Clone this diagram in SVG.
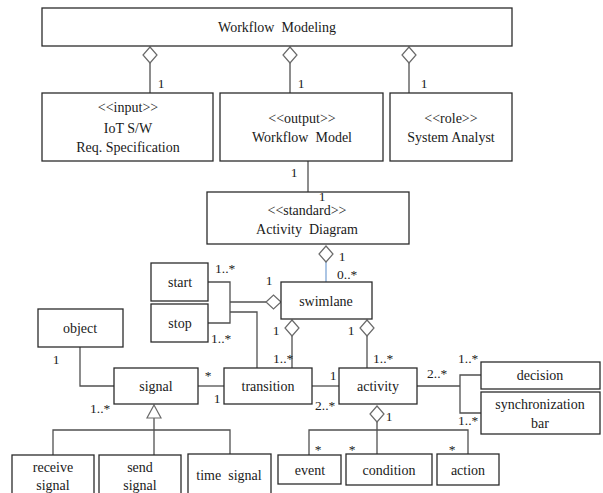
<svg xmlns="http://www.w3.org/2000/svg" width="603" height="493" viewBox="0 0 603 493">
  <style>
    .box { fill: #ffffff; stroke: #2b2b2b; stroke-width: 1.3; }
    .ln { fill: none; stroke: #505050; stroke-width: 1.3; }
    .blue { fill: none; stroke: #7fa6d6; stroke-width: 1.3; }
    .agg { fill: #ffffff; stroke: #6a6a6a; stroke-width: 1.2; }
    text { font-family: "Liberation Serif", "Times New Roman", serif; font-size: 14px; fill: #1a1a1a; }
    .c { text-anchor: middle; }
    .m { font-size: 13.5px; fill: #222; }
  </style>
  <defs>
    <path id="dv" d="M0,0 L7,8 L0,16 L-7,8 Z" class="agg"/>
  </defs>

  <rect width="603" height="493" fill="#ffffff"/>

  <!-- connectors -->
  <g id="connectors">
    <!-- Workflow Modeling aggregations -->
    <line class="ln" x1="150" y1="63" x2="150" y2="93"/>
    <line class="ln" x1="290" y1="63" x2="290" y2="93"/>
    <line class="ln" x1="409" y1="63" x2="409" y2="93"/>
    <use href="#dv" x="150" y="47"/>
    <use href="#dv" x="290" y="47"/>
    <use href="#dv" x="409" y="47"/>

    <!-- Workflow Model to Activity Diagram -->
    <line class="ln" x1="308" y1="161" x2="308" y2="192"/>

    <!-- Activity Diagram to swimlane -->
    <line class="blue" x1="326" y1="262" x2="326" y2="282"/>
    <use href="#dv" x="326" y="246"/>

    <!-- start / stop to swimlane -->
    <polyline class="ln" points="208,282 230,282 230,323 208,323"/>
    <line class="ln" x1="230" y1="302" x2="266" y2="302"/>
    <path class="agg" d="M281,302 L273.5,295 L266,302 L273.5,309 Z"/>
    <!-- start / stop to transition -->
    <polyline class="ln" points="230,312 257,312 257,368"/>

    <!-- swimlane to transition and activity -->
    <line class="ln" x1="292" y1="336" x2="292" y2="368"/>
    <use href="#dv" x="292" y="320"/>
    <line class="ln" x1="367" y1="336" x2="367" y2="368"/>
    <use href="#dv" x="367" y="320"/>

    <!-- object to signal -->
    <polyline class="ln" points="80,347 80,386 114,386"/>
    <!-- signal to transition, transition to activity -->
    <line class="ln" x1="198" y1="386" x2="224" y2="386"/>
    <line class="ln" x1="312" y1="386" x2="339" y2="386"/>

    <!-- signal generalization -->
    <polyline class="ln" points="53,455 53,430 230,430 230,454"/>
    <line class="ln" x1="154" y1="418" x2="154" y2="455"/>
    <path class="agg" d="M154,405 L161,418 L147,418 Z"/>

    <!-- activity to decision / synchronization bar -->
    <line class="ln" x1="417" y1="386" x2="460" y2="386"/>
    <polyline class="ln" points="481,375 460,375 460,413 483,413"/>

    <!-- activity to event / condition / action -->
    <polyline class="ln" points="309,455 309,430 468,430 468,454"/>
    <line class="ln" x1="377" y1="422" x2="377" y2="455"/>
    <use href="#dv" x="377" y="406"/>
  </g>

  <!-- nodes -->
  <g id="workflow-modeling">
    <rect class="box" x="42" y="8" width="470" height="38"/>
    <text class="c" x="277" y="32" xml:space="preserve">Workflow  Modeling</text>
  </g>
  <g id="iot-spec">
    <rect class="box" x="42" y="93" width="171" height="68"/>
    <text class="c" x="128" y="112">&lt;&lt;input&gt;&gt;</text>
    <text class="c" x="128" y="133">IoT S/W</text>
    <text class="c" x="128" y="152">Req. Specification</text>
  </g>
  <g id="workflow-model">
    <rect class="box" x="220" y="93" width="163" height="68"/>
    <text class="c" x="302" y="123">&lt;&lt;output&gt;&gt;</text>
    <text class="c" x="302" y="142" xml:space="preserve">Workflow  Model</text>
  </g>
  <g id="system-analyst">
    <rect class="box" x="390" y="93" width="122" height="68"/>
    <text class="c" x="451" y="123">&lt;&lt;role&gt;&gt;</text>
    <text class="c" x="451" y="142">System Analyst</text>
  </g>
  <g id="activity-diagram">
    <rect class="box" x="207" y="192" width="202" height="52"/>
    <text class="c" x="307" y="215">&lt;&lt;standard&gt;&gt;</text>
    <text class="c" x="307" y="234" xml:space="preserve">Activity  Diagram</text>
  </g>
  <g id="start">
    <rect class="box" x="151" y="263" width="57" height="38"/>
    <text class="c" x="180" y="287">start</text>
  </g>
  <g id="stop">
    <rect class="box" x="151" y="304" width="57" height="38"/>
    <text class="c" x="180" y="328">stop</text>
  </g>
  <g id="swimlane">
    <rect class="box" x="281" y="282" width="91" height="37"/>
    <text class="c" x="326" y="306">swimlane</text>
  </g>
  <g id="object">
    <rect class="box" x="38" y="309" width="85" height="38"/>
    <text class="c" x="80" y="333">object</text>
  </g>
  <g id="signal">
    <rect class="box" x="114" y="368" width="84" height="36"/>
    <text class="c" x="156" y="391">signal</text>
  </g>
  <g id="transition">
    <rect class="box" x="224" y="368" width="88" height="36"/>
    <text class="c" x="268" y="391">transition</text>
  </g>
  <g id="activity">
    <rect class="box" x="339" y="368" width="78" height="36"/>
    <text class="c" x="378" y="391">activity</text>
  </g>
  <g id="decision">
    <rect class="box" x="481" y="362" width="119" height="27"/>
    <text class="c" x="540" y="380">decision</text>
  </g>
  <g id="synchronization-bar">
    <rect class="box" x="481" y="392" width="119" height="42"/>
    <text class="c" x="540" y="409">synchronization</text>
    <text class="c" x="540" y="428">bar</text>
  </g>
  <g id="receive-signal">
    <rect class="box" x="12" y="455" width="82" height="45"/>
    <text class="c" x="53" y="472">receive</text>
    <text class="c" x="53" y="490">signal</text>
  </g>
  <g id="send-signal">
    <rect class="box" x="99" y="455" width="82" height="45"/>
    <text class="c" x="140" y="472">send</text>
    <text class="c" x="140" y="490">signal</text>
  </g>
  <g id="time-signal">
    <rect class="box" x="188" y="454" width="83" height="46"/>
    <text class="c" x="229" y="480" xml:space="preserve">time  signal</text>
  </g>
  <g id="event">
    <rect class="box" x="278" y="455" width="63" height="29"/>
    <text class="c" x="310" y="475">event</text>
  </g>
  <g id="condition">
    <rect class="box" x="346" y="454" width="86" height="31"/>
    <text class="c" x="389" y="475">condition</text>
  </g>
  <g id="action">
    <rect class="box" x="437" y="454" width="62" height="31"/>
    <text class="c" x="468" y="475">action</text>
  </g>

  <!-- multiplicities -->
  <g id="multiplicities">
    <text class="m c" x="161" y="88">1</text>
    <text class="m c" x="301" y="88">1</text>
    <text class="m c" x="424" y="88">1</text>
    <text class="m c" x="294" y="177">1</text>
    <text class="m c" x="322" y="201">1</text>
    <text class="m c" x="342" y="261">1</text>
    <text class="m" x="337" y="279">0..*</text>
    <text class="m" x="215" y="273">1..*</text>
    <text class="m c" x="269" y="285">1</text>
    <text class="m" x="211" y="343">1..*</text>
    <text class="m c" x="276" y="335">1</text>
    <text class="m" x="273" y="363">1..*</text>
    <text class="m c" x="351" y="335">1</text>
    <text class="m" x="373" y="363">1..*</text>
    <text class="m c" x="56" y="364">1</text>
    <text class="m c" x="208" y="380">*</text>
    <text class="m c" x="217" y="403">1</text>
    <text class="m" x="90" y="413">1..*</text>
    <text class="m c" x="333" y="380">1</text>
    <text class="m" x="315" y="410">2..*</text>
    <text class="m" x="427" y="378">2..*</text>
    <text class="m" x="458" y="363">1..*</text>
    <text class="m" x="458" y="425">1..*</text>
    <text class="m c" x="389" y="421">1</text>
    <text class="m c" x="318" y="454">*</text>
    <text class="m c" x="352" y="454">*</text>
    <text class="m c" x="452" y="454">*</text>
  </g>
</svg>
